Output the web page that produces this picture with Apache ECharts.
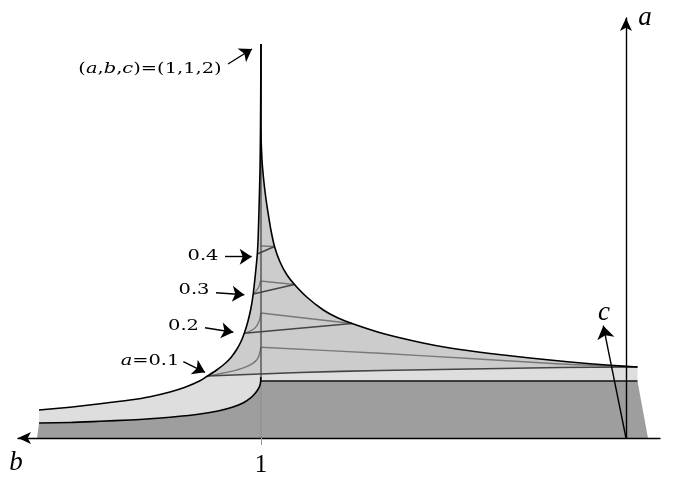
<!DOCTYPE html>
<html><head><meta charset="utf-8">
<style>html,body{margin:0;padding:0;background:#fff}#c{width:678px;height:486px}</style>
<script src="https://cdn.jsdelivr.net/npm/echarts@6/dist/echarts.min.js"></script>
</head><body><div id="c"></div>
<script>
// All points are [b, a]
const upperLeft=[[1.6082,.0711],[1.5233,.0782],[1.4411,.0868],[1.3589,.0964],[1.3041,.1048],[1.2493,.1168],[1.2082,.1287],[1.1671,.1452],[1.1466,.1574]];
const upperSpike=[[1.1466,.1574],[1.1233,.1713],[1.0986,.1891],[1.0822,.2043],[1.0658,.2259],[1.0548,.2449],[1.0458,.2657],[1.0356,.2970],[1.0274,.3299],[1.0214,.3655],[1.0156,.4137],[1.0101,.4670],[1.0077,.5109],[1.0055,.5787],[1.0027,.6802],[1.0014,.7817],[1,1]];
const rightCurve=[[1,1],[1,.7817],[.9973,.7056],[.9926,.6548],[.9871,.6117],[.9800,.5673],[.9734,.5305],[.9630,.4860],[.9479,.4467],[.9296,.4150],[.9082,.3896],[.8748,.3579],[.8293,.3249],[.7918,.3058],[.7507,.2906],[.6658,.2652],[.5562,.2411],[.4822,.2284],[.3726,.2145],[.2630,.2030],[.1534,.1929],[.0438,.1845],[-.0315,.1802]];
const lowerCurve=[[1.6082,.0381],[1.5233,.0393],[1.4411,.0424],[1.3589,.0457],[1.3041,.0487],[1.2356,.0538],[1.1671,.0609],[1.1178,.0685],[1.0767,.0787],[1.0493,.0888],[1.0301,.1003],[1.0164,.1129],[1.0068,.1256],[1.0027,.1345],[1.0008,.1447]];
const lowerCurveEnd=[[1.0008,.1447],[1.0008,.1548]];
const floorLine=[[1,.1447],[-.0315,.1447]];
const darkCorners=[[1.6137,0],[-.0603,0]];
const level1Dark=[[1.1466,.1574],[.8932,.1662],[.6740,.1713],[.4274,.1751],[.1808,.1789],[-.0315,.1802]];
const level1Gray=[[1.1466,.1574],[1.0849,.1683],[1.0392,.1810],[1.0118,.1980],[1.0027,.2190],[1.0008,.2302]];
const level1GrayRight=[[1.0008,.2302],[.6740,.2150],[.4274,.2018],[.1808,.1878],[.0438,.1827],[-.0315,.1802]];
const level2Dark=[[1.0458,.2657],[.7507,.2906]];
const level2Gray=[[1.0458,.2657],[1.0164,.2792],[1.0047,.2979],[1.0008,.3172]];
const level2GrayRight=[[1.0008,.3172],[.7507,.2906]];
const level3Dark=[[1.0214,.3655],[.9082,.3896]];
const level3Gray=[[1.0214,.3655],[1.0074,.3807],[1.0014,.3985]];
const level3GrayRight=[[1.0014,.3985],[.9082,.3896]];
const level4Dark=[[1.0101,.4670],[.9630,.4860]];
const level4Gray=[[1.0008,.4873],[.9630,.4860]];
const ridge=[[1,.1447],[1,.7817]];
const ridgeBelow=[[1,0],[1,.1447]];
const arrows=[
 [[1.0904,.9492],[1.0247,.9873]],
 [[1.0986,.4602],[1.0255,.4602]],
 [[1.1233,.3688],[1.0458,.3637]],
 [[1.1534,.2799],[1.0759,.2683]],
 [[1.2129,.1937],[1.1534,.1668]]
];
const cArrow=[[0,0],[.0622,.2850]];
const smallLabels=[
 ['{t|(}{i|a}{t|,}{i|b}{t|,}{i|c}{t|)=(1,1,2)}',1.3041,.9365],
 ['{t|0.4}',1.1589,.4619],
 ['{t|0.3}',1.1836,.3744],
 ['{t|0.2}',1.2123,.2843],
 ['{i|a}{t|=0.1}',1.3041,.1954]
];
const axisLetters=[['a',-.0521,1.0655],['b',1.6712,-.0635],['c',.0603,.3173]];
const tickB=[1];
const bRange=[-.0932,1.6658], aRange=[0,1.066];

const LIGHT='#dedede', MID='#cccccc', DARK='#9e9e9e';
const polygon=(pts,fill)=>({type:'custom',data:pts,silent:true,clip:false,animation:false,encode:{x:0,y:1},
 renderItem:(p,api)=>p.dataIndex===0?{type:'polygon',shape:{points:pts.map(q=>api.coord(q))},style:{fill:fill,stroke:null}}:null});
const poly=(pts,color,width,smooth)=>({type:'line',data:pts,showSymbol:false,symbol:'none',clip:false,silent:true,animation:false,
 smooth:smooth||false,lineStyle:{color:color,width:width,join:'round'},z:3});
const sp="'DejaVu Serif'";
const cm="'Liberation Serif'";
const texts=(rows,makeStyle,sx)=>({type:'custom',data:rows.map(r=>[r[1],r[2]]),silent:true,clip:false,animation:false,z:13,encode:{x:0,y:1},
 renderItem:(p,api)=>{const c=api.coord(rows[p.dataIndex].slice(1));
  return {type:'text',x:c[0],y:c[1],scaleX:sx,scaleY:1,style:makeStyle(rows[p.dataIndex][0])};}});

const chart=echarts.init(document.getElementById('c'),null,{renderer:'canvas'});
chart.setOption({
 backgroundColor:'#fff',animation:false,tooltip:{show:false},
 grid:{left:18,right:18,top:18,bottom:48,containLabel:false},
 xAxis:{type:'value',inverse:true,min:bRange[0],max:bRange[1],z:10,
  axisLine:{show:true,onZero:true,symbol:['arrow','none'],symbolSize:[9,13],lineStyle:{color:'#000',width:1.4}},
  axisTick:{show:true,customValues:tickB,length:7,lineStyle:{color:'#999',width:1}},
  axisLabel:{show:true,customValues:tickB,formatter:v=>String(v),fontFamily:cm,fontSize:25,color:'#000',margin:15},
  splitLine:{show:false}},
 yAxis:{type:'value',min:aRange[0],max:aRange[1],z:10,
  axisLine:{show:true,onZero:true,symbol:['none','arrow'],symbolSize:[9,13],lineStyle:{color:'#000',width:1.4}},
  axisTick:{show:false},axisLabel:{show:false},splitLine:{show:false}},
 series:[
  polygon([darkCorners[0],...lowerCurve,floorLine[0],floorLine[1],darkCorners[1]],DARK),
  polygon([...upperLeft,...level1Dark.slice(1),floorLine[1],floorLine[0],...lowerCurve.slice().reverse()],LIGHT),
  polygon([...upperSpike,...rightCurve.slice(1),...level1Dark.slice().reverse().slice(1,-1)],MID),
  poly(ridgeBelow,'#8c8c8c',1),
  poly(level1Gray,'#787878',1.4,.4),poly(level1GrayRight,'#787878',1.4,.3),
  poly(level2Gray,'#787878',1.4,.4),poly(level2GrayRight,'#787878',1.4),
  poly(level3Gray,'#787878',1.4,.4),poly(level3GrayRight,'#787878',1.4),
  poly(level4Gray,'#787878',1.4),
  poly(ridge,'#505050',1.4),
  poly(level1Dark,'#444',1.6,.3),poly(level2Dark,'#444',1.6),poly(level3Dark,'#444',1.6),poly(level4Dark,'#444',1.6),
  poly(floorLine,'#111',1.4),
  poly([...upperLeft,...upperSpike.slice(1)],'#000',1.6,.25),poly(rightCurve,'#000',1.6,.25),
  poly(lowerCurve,'#000',1.6,.25),poly(lowerCurveEnd,'#000',1.6),
  {type:'lines',coordinateSystem:'cartesian2d',silent:true,animation:false,clip:false,z:12,
   data:arrows.map(c=>({coords:c})),symbol:['none','arrow'],symbolSize:[9,12],
   lineStyle:{color:'#000',width:1.4,opacity:1,curveness:0}},
  {type:'lines',coordinateSystem:'cartesian2d',silent:true,animation:false,clip:false,z:12,
   data:[{coords:cArrow}],symbol:['none','arrow'],symbolSize:[10,13],
   lineStyle:{color:'#000',width:1.4,opacity:1,curveness:0}},
  texts(smallLabels,t=>({text:t,align:'center',verticalAlign:'middle',
    rich:{t:{fontFamily:sp,fontSize:14.5,fill:'#000'},i:{fontFamily:sp,fontStyle:'italic',fontSize:14.5,fill:'#000'}}}),1.34),
  texts(axisLetters,t=>({text:t,align:'center',verticalAlign:'middle',fontFamily:cm,fontStyle:'italic',fontSize:27,fill:'#000'}),1)
 ]
});
</script></body></html>
